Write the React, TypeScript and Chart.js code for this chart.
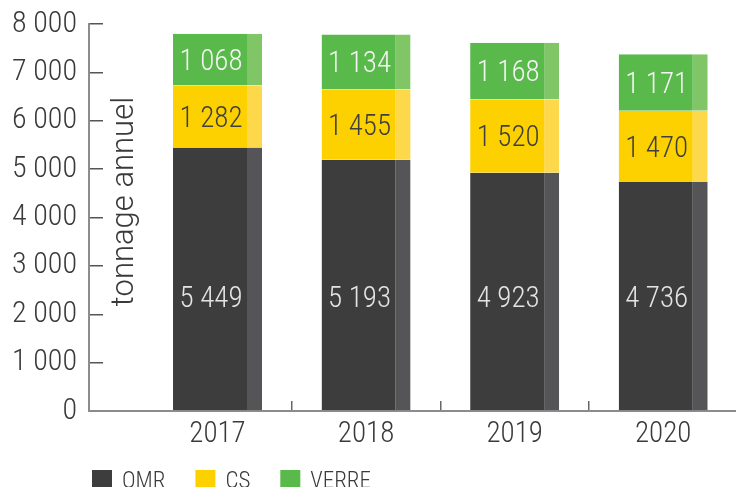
import React, { useEffect, useRef } from 'react';
import { Chart, registerables } from 'chart.js';

Chart.register(...registerables);

// ---- data ----
const categories = ['2017', '2018', '2019', '2020'];
const seriesLabels = ['OMR', 'CS', 'VERRE'];
const omr = [5449, 5193, 4923, 4736];
const cs = [1282, 1455, 1520, 1470];
const verre = [1068, 1134, 1168, 1171];
const yTickValues = [0, 1000, 2000, 3000, 4000, 5000, 6000, 7000, 8000];
const yTitle = 'tonnage annuel';

// ---- style ----
const FAMILY = 'Roboto';
const WEIGHT = '300 condensed';
const mainColors = ['#3d3d3d', '#fdd100', '#59b94a'];
const stripColors = ['#555557', '#fed84b', '#80c566'];
const labelColors = ['#e4e4e4', '#3f3f3f', '#f4f4f4'];
const TEXT = '#3a3a3a';
const STRIP = 15;

const fmt = (v: number) => String(Math.round(v)).replace(/\B(?=(\d{3})+(?!\d))/g, ' ');

const valueLabels = {
  id: 'valueLabels',
  afterDatasetsDraw(chart: any) {
    const ctx = chart.ctx;
    const yScale = chart.scales.y;
    const omrMid = Math.min(...omr) / 2;
    ctx.save();
    ctx.font = `${WEIGHT} 29px ${FAMILY}`;
    ctx.textAlign = 'center';
    ctx.textBaseline = 'middle';
    chart.data.datasets.forEach((ds: any, di: number) => {
      const meta = chart.getDatasetMeta(di);
      meta.data.forEach((bar: any, i: number) => {
        const p = bar.getProps(['x', 'y', 'base'], true);
        const cx = p.x - STRIP / 2 + 1;
        const cy = (di === 0 ? yScale.getPixelForValue(omrMid) : (p.y + p.base) / 2) + 3;
        ctx.fillStyle = labelColors[di];
        ctx.fillText(fmt(ds.data[i]), cx, cy);
      });
    });
    ctx.restore();
  },
};

const extras = {
  id: 'extras',
  afterDraw(chart: any) {
    const ctx = chart.ctx;
    const area = chart.chartArea;
    const yScale = chart.scales.y;
    ctx.save();
    // y title inside plot, right of axis
    ctx.translate(yScale.right + 36, (area.top + area.bottom) / 2 - 16);
    ctx.rotate(-Math.PI / 2);
    ctx.font = `300 31px ${FAMILY}`;
    ctx.fillStyle = TEXT;
    ctx.textAlign = 'center';
    ctx.textBaseline = 'middle';
    ctx.fillText(yTitle, 0, 0);
    ctx.restore();

    // legend
    ctx.save();
    ctx.font = `${WEIGHT} 23px ${FAMILY}`;
    ctx.textAlign = 'left';
    ctx.textBaseline = 'alphabetic';
    let x = 92;
    const top = area.bottom + 59;
    chart.data.datasets.forEach((ds: any) => {
      ctx.fillStyle = ds.backgroundColor;
      ctx.fillRect(x, top, 20, 20);
      ctx.fillStyle = TEXT;
      const tx = x + 30;
      ctx.fillText(ds.label, tx, top + 18);
      x = tx + ctx.measureText(ds.label).width + 30;
    });
    ctx.restore();
  },
};

export default function App() {
  const ref = useRef<HTMLCanvasElement | null>(null);
  useEffect(() => {
    document.body.style.margin = '0';
    document.body.style.overflow = 'hidden';
    const canvas = ref.current!;
    const seriesData = [omr, cs, verre];
    const chart = new Chart(canvas, {
      type: 'bar',
      data: {
        labels: categories,
        datasets: seriesData.map((d, i) => ({
          label: seriesLabels[i],
          data: d,
          backgroundColor: mainColors[i],
          borderColor: stripColors[i],
          borderWidth: { top: 0, right: STRIP, bottom: 0, left: 0 },
          borderSkipped: false,
          barThickness: 89,
          inflateAmount: 0,
        })),
      },
      options: {
        animation: false,
        responsive: false,
        devicePixelRatio: 1,
        layout: { padding: { top: 24, right: 0, bottom: 0, left: 0 } },
        plugins: { legend: { display: false }, tooltip: { enabled: false } },
        scales: {
          x: {
            type: 'linear',
            stacked: true,
            offset: false,
            min: 2016.135,
            max: 2020.49,
            afterBuildTicks: (s: any) => {
              s.ticks = categories.map((c) => ({ value: Number(c) }));
            },
            afterFit: (s: any) => {
              s.height = 76;
              s.paddingLeft = 0;
              s.paddingRight = 0;
            },
            ticks: {
              autoSkip: false,
              maxRotation: 0,
              padding: 16,
              color: TEXT,
              font: { family: FAMILY, size: 29, weight: WEIGHT as any },
              callback: (_v: any, i: number) => categories[i],
            },
            grid: {
              offset: true,
              drawOnChartArea: false,
              drawTicks: true,
              tickLength: -10,
              lineWidth: 1.5,
              color: (c: any) => (c.index === 0 ? 'rgba(0,0,0,0)' : '#666666'),
            },
            border: { display: true, color: '#8c8c8c', width: 2 },
          },
          y: {
            stacked: true,
            min: 0,
            max: 8000,
            afterBuildTicks: (s: any) => {
              s.ticks = yTickValues.map((v) => ({ value: v }));
            },
            afterFit: (s: any) => {
              s.width = 89;
              s.paddingTop = 0;
              s.paddingBottom = 0;
            },
            ticks: {
              padding: 26,
              color: TEXT,
              font: { family: FAMILY, size: 30, weight: WEIGHT as any },
              callback: (v: any) => fmt(Number(v)),
            },
            grid: {
              drawOnChartArea: false,
              drawTicks: true,
              tickLength: -14,
              lineWidth: 1.5,
              color: '#555555',
            },
            border: { display: true, color: '#8c8c8c', width: 2 },
          },
        },
      },
      plugins: [valueLabels, extras],
    } as any);
    return () => chart.destroy();
  }, []);
  return (
    <div style={{ width: 736, height: 487 }}>
      <canvas ref={ref} width={736} height={487} style={{ display: 'block' }} />
    </div>
  );
}
